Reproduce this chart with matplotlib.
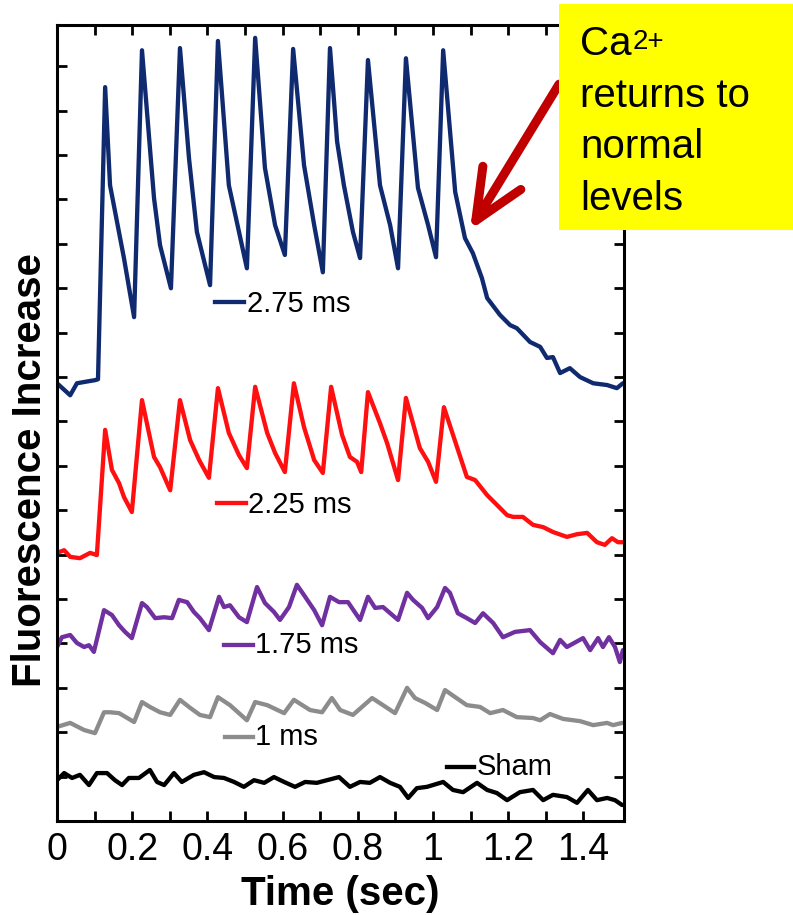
import matplotlib
matplotlib.use("Agg")
import matplotlib.pyplot as plt
from matplotlib.patches import Rectangle, FancyArrowPatch

# traces: time in s, fluorescence in tick units
blue_t = [0.000, 0.035, 0.053, 0.080, 0.101, 0.109, 0.128, 0.141, 0.178, 0.205,
          0.226, 0.258, 0.274, 0.303,
          0.327, 0.351, 0.372, 0.407,
          0.428, 0.457, 0.484, 0.505,
          0.527, 0.553, 0.580, 0.606,
          0.628, 0.657, 0.684, 0.707,
          0.726, 0.745, 0.763, 0.787, 0.806,
          0.827, 0.859, 0.886, 0.907,
          0.928, 0.960, 0.987, 1.008,
          1.027, 1.059, 1.085, 1.106, 1.130, 1.144, 1.178, 1.205, 1.223, 1.258,
          1.285, 1.303, 1.319, 1.338, 1.364, 1.391, 1.426, 1.463, 1.489, 1.505]
blue_y = [9.86, 9.59, 9.86, 9.90, 9.93, 9.95, 16.53, 14.32, 12.68, 11.35,
          17.36, 14.03, 12.97, 12.00,
          17.41, 14.93, 13.27, 12.07,
          17.57, 14.32, 13.27, 12.45,
          17.64, 14.71, 13.42, 12.75,
          17.39, 14.77, 13.42, 12.36,
          17.41, 15.30, 14.32, 13.27, 12.68,
          17.14, 14.32, 13.42, 12.45,
          17.18, 14.26, 13.42, 12.70,
          17.36, 14.17, 13.13, 12.79, 12.23, 11.78, 11.40, 11.17, 11.10, 10.79,
          10.68, 10.43, 10.45, 10.09, 10.20, 10.00, 9.86, 9.82, 9.75, 9.86]

red_t = [0.000, 0.019, 0.035, 0.061, 0.088, 0.106, 0.128, 0.146, 0.165, 0.178,
         0.199, 0.226, 0.258, 0.274, 0.301, 0.327, 0.354, 0.378, 0.404, 0.428,
         0.457, 0.484, 0.505, 0.527, 0.559, 0.580, 0.606, 0.630, 0.657, 0.684,
         0.707, 0.729, 0.758, 0.779, 0.798, 0.809, 0.827, 0.859, 0.878, 0.907,
         0.928, 0.965, 0.987, 1.008, 1.029, 1.064, 1.090, 1.112, 1.144, 1.170,
         1.197, 1.213, 1.239, 1.266, 1.293, 1.319, 1.356, 1.383, 1.410, 1.436,
         1.457, 1.476, 1.492, 1.505]
red_y = [6.04, 6.10, 5.95, 5.92, 6.04, 5.99, 8.81, 7.91, 7.61, 7.30,
         6.96, 9.48, 8.20, 7.97, 7.45, 9.48, 8.58, 8.13, 7.73, 9.75,
         8.74, 8.24, 7.95, 9.78, 8.74, 8.29, 7.86, 9.86, 8.87, 8.13,
         7.84, 9.78, 8.70, 8.20, 8.09, 7.86, 9.66, 8.96, 8.51, 7.68,
         9.53, 8.40, 8.09, 7.64, 9.32, 8.42, 7.75, 7.68, 7.34, 7.12,
         6.89, 6.85, 6.85, 6.67, 6.62, 6.51, 6.40, 6.46, 6.49, 6.28,
         6.22, 6.37, 6.28, 6.28]

purple_t = [0.000, 0.013, 0.035, 0.053, 0.072, 0.085, 0.098, 0.125, 0.146, 0.165,
            0.181, 0.199, 0.226, 0.239, 0.261, 0.285, 0.306, 0.324, 0.346, 0.364,
            0.380, 0.404, 0.431, 0.444, 0.460, 0.484, 0.505, 0.532, 0.553, 0.577,
            0.593, 0.617, 0.638, 0.660, 0.684, 0.705, 0.726, 0.750, 0.774, 0.806,
            0.827, 0.846, 0.867, 0.907, 0.931, 0.947, 0.971, 0.987, 1.011, 1.032,
            1.045, 1.066, 1.090, 1.112, 1.133, 1.160, 1.186, 1.218, 1.258, 1.285,
            1.319, 1.338, 1.356, 1.399, 1.418, 1.439, 1.452, 1.468, 1.484, 1.497,
            1.505]
purple_y = [3.92, 4.14, 4.19, 4.01, 3.92, 3.96, 3.81, 4.75, 4.64, 4.41,
            4.26, 4.12, 4.91, 4.82, 4.57, 4.59, 4.57, 4.98, 4.93, 4.71,
            4.57, 4.30, 5.05, 4.82, 4.86, 4.59, 4.48, 5.27, 4.91, 4.71,
            4.53, 4.82, 5.32, 5.05, 4.75, 4.41, 5.05, 4.93, 4.93, 4.53,
            5.05, 4.80, 4.82, 4.53, 5.14, 4.98, 4.80, 4.57, 4.82, 5.25,
            5.14, 4.68, 4.57, 4.46, 4.68, 4.46, 4.14, 4.26, 4.30, 4.03,
            3.78, 4.08, 3.92, 4.12, 3.85, 4.12, 3.92, 4.14, 3.92, 3.58,
            3.85]

gray_t = [0.000, 0.035, 0.072, 0.101, 0.125, 0.141, 0.165, 0.205, 0.226, 0.247,
          0.274, 0.301, 0.327, 0.354, 0.380, 0.407, 0.428, 0.460, 0.505, 0.527,
          0.559, 0.604, 0.630, 0.673, 0.705, 0.731, 0.753, 0.787, 0.838, 0.867,
          0.899, 0.931, 0.952, 0.979, 1.011, 1.032, 1.059, 1.090, 1.125, 1.152,
          1.186, 1.223, 1.266, 1.285, 1.311, 1.346, 1.391, 1.426, 1.463, 1.479,
          1.503]
gray_y = [2.12, 2.21, 2.05, 1.98, 2.45, 2.45, 2.43, 2.23, 2.68, 2.57,
          2.45, 2.39, 2.73, 2.55, 2.39, 2.34, 2.79, 2.61, 2.27, 2.68,
          2.61, 2.43, 2.73, 2.50, 2.45, 2.77, 2.50, 2.39, 2.77, 2.61,
          2.43, 3.00, 2.77, 2.66, 2.50, 2.95, 2.79, 2.61, 2.57, 2.43,
          2.50, 2.34, 2.32, 2.27, 2.41, 2.30, 2.25, 2.16, 2.21, 2.16,
          2.21]

black_t = [0.000, 0.019, 0.040, 0.061, 0.085, 0.106, 0.133, 0.154, 0.173, 0.191,
           0.218, 0.247, 0.266, 0.285, 0.311, 0.332, 0.364, 0.391, 0.418, 0.444,
           0.471, 0.497, 0.524, 0.551, 0.577, 0.604, 0.633, 0.660, 0.691, 0.718,
           0.750, 0.779, 0.806, 0.832, 0.859, 0.886, 0.912, 0.934, 0.957, 0.984,
           1.027, 1.053, 1.080, 1.117, 1.144, 1.170, 1.197, 1.231, 1.266, 1.293,
           1.319, 1.356, 1.383, 1.412, 1.436, 1.463, 1.484, 1.503]
black_y = [0.92, 1.08, 0.97, 1.04, 0.81, 1.08, 1.08, 0.92, 0.81, 0.97,
           0.97, 1.15, 0.88, 0.81, 1.08, 0.88, 1.04, 1.10, 0.99, 0.97,
           0.88, 0.77, 0.92, 0.86, 0.99, 0.88, 0.77, 0.88, 0.86, 0.92,
           0.99, 0.77, 0.88, 0.86, 0.99, 0.86, 0.77, 0.52, 0.74, 0.77,
           0.88, 0.70, 0.65, 0.86, 0.70, 0.63, 0.47, 0.65, 0.70, 0.47,
           0.59, 0.54, 0.41, 0.70, 0.47, 0.52, 0.47, 0.36]

labels = ["2.75 ms", "2.25 ms", "1.75 ms", "1 ms", "Sham"]
colors = ["#0f2a6e", "#ff0f0f", "#7030a0", "#8c8c8c", "#000000"]
xtick_vals = [0, 0.2, 0.4, 0.6, 0.8, 1.0, 1.2, 1.4]
xtick_text = ["0", "0.2", "0.4", "0.6", "0.8", "1", "1.2", "1.4"]

plt.rcParams["font.family"] = ["Liberation Sans", "DejaVu Sans"]

fig = plt.figure(figsize=(7.93, 9.15), dpi=100)
ax = fig.add_axes([0.0719, 0.1027, 0.7150, 0.8700])

traces = [(blue_t, blue_y), (red_t, red_y), (purple_t, purple_y),
          (gray_t, gray_y), (black_t, black_y)]
for (t, y), c in zip(traces, colors):
    ax.plot(t, y, color=c, lw=3.1, solid_joinstyle="round", solid_capstyle="round")

# inline labels: short line + text, in axes fraction
label_pos = [(0.279, 0.330, 0.652, 0.335, 0.639),
             (0.282, 0.333, 0.3995, 0.337, 0.387),
             (0.295, 0.345, 0.221, 0.350, 0.211),
             (0.296, 0.345, 0.1055, 0.350, 0.0955),
             (0.688, 0.735, 0.068, 0.740, 0.0578)]
for (x0, x1, yl, xt, yt), c, lab in zip(label_pos, colors, labels):
    ax.plot([x0, x1], [yl, yl], transform=ax.transAxes, color=c, lw=3.1)
    ax.text(xt, yt, lab, transform=ax.transAxes, fontsize=21, va="baseline")

ax.set_xlim(0, 1.508)
ax.set_ylim(0, 17.93)
ax.set_xticks(xtick_vals)
ax.set_xticklabels(xtick_text)
ax.set_xticks([0.1, 0.3, 0.5, 0.7, 0.9, 1.1, 1.3], minor=True)
ax.set_yticks(range(1, 18))
ax.tick_params(which="both", direction="in", top=True, right=True,
               length=7.5, width=2, labelsize=27, pad=8, labelleft=False)
for s in ax.spines.values():
    s.set_linewidth(2.2)

ax.set_xlabel("Time (sec)", fontsize=29, fontweight="bold")
ax.xaxis.set_label_coords(0.5, -0.068)
ax.set_ylabel("Fluorescence Increase", fontsize=29, fontweight="bold")
ax.yaxis.set_label_coords(-0.014, 0.441)

# red arrow and yellow note box (figure coords)
arrow = FancyArrowPatch(posA=(0.7050, 0.9080), posB=(0.5927, 0.7486),
                        transform=fig.transFigure,
                        arrowstyle="->,head_length=3.6,head_width=1.6",
                        mutation_scale=10, lw=6.5, color="#c00000",
                        shrinkA=0, shrinkB=0, zorder=5)
fig.add_artist(arrow)
fig.add_artist(Rectangle((0.705, 0.7486), 0.295, 0.247, transform=fig.transFigure,
                         facecolor="#ffff00", edgecolor="none", zorder=6))
fig.text(0.7314, 0.9399, "Ca", fontsize=29, va="baseline", zorder=7)
fig.text(0.7982, 0.9464, "2+", fontsize=20, va="baseline", zorder=7)
fig.text(0.7314, 0.8831, "returns to", fontsize=29, va="baseline", zorder=7)
fig.text(0.7314, 0.8273, "normal", fontsize=29, va="baseline", zorder=7)
fig.text(0.7314, 0.7705, "levels", fontsize=29, va="baseline", zorder=7)

fig.savefig("out.png", dpi=100)
